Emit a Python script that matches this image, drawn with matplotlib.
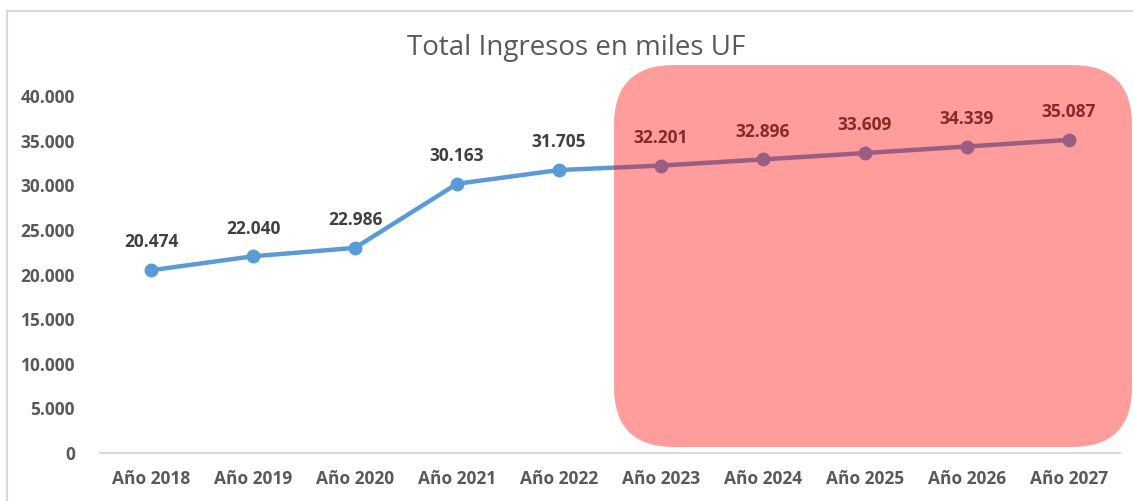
import matplotlib
matplotlib.use("Agg")
import matplotlib.pyplot as plt
from matplotlib.patches import FancyBboxPatch
from matplotlib.lines import Line2D
from matplotlib.transforms import Affine2D
from matplotlib.ticker import FuncFormatter

categories = ["Año 2018", "Año 2019", "Año 2020", "Año 2021", "Año 2022",
              "Año 2023", "Año 2024", "Año 2025", "Año 2026", "Año 2027"]
values = [20474, 22040, 22986, 30163, 31705, 32201, 32896, 33609, 34339, 35087]
y_ticks = [0, 5000, 10000, 15000, 20000, 25000, 30000, 35000, 40000]
title = "Total Ingresos en miles UF"

W, H = 1133, 501
plt.rcParams['font.family'] = ['Open Sans', 'DejaVu Sans']

def fmt(v):
    return f"{int(v):,}".replace(",", ".")

fig = plt.figure(figsize=(W / 100, H / 100), dpi=100)
fig.patch.set_facecolor("white")
ax = fig.add_axes([100 / W, (H - 453) / H, (1120 - 100) / W, (453 - 96) / H])

x = list(range(len(categories)))
ax.plot(x, values, color="#5B9BD5", lw=3.2, marker="o", ms=9, zorder=3,
        solid_capstyle="round")
for xi, v in zip(x, values):
    ax.annotate(fmt(v), (xi, v), xytext=(0, 20), textcoords="offset points",
                ha="center", va="center", fontsize=12.5, fontweight="bold",
                color="#404040")

ax.set_xlim(-0.5, len(categories) - 0.5)
ax.set_ylim(0, 40000)
ax.set_yticks(y_ticks)
ax.yaxis.set_major_formatter(FuncFormatter(lambda v, p: fmt(v)))
ax.set_xticks(x)
ax.set_xticklabels(categories)
for lab in ax.get_xticklabels() + ax.get_yticklabels():
    lab.set_fontweight("bold")
    lab.set_fontsize(12.5)
    lab.set_color("#595959")
ax.tick_params(axis="both", length=0)
ax.tick_params(axis="x", pad=12)
ax.tick_params(axis="y", pad=18)
for s in ["top", "right", "left"]:
    ax.spines[s].set_visible(False)
ax.spines["bottom"].set_color("#D9D9D9")
ax.spines["bottom"].set_linewidth(1.5)
ax.set_facecolor("none")

fig.text(576 / W, (H - 48) / H, title, ha="center", va="center",
         fontsize=20, color="#595959")

# pixel transform (image coords, y downward)
pix = Affine2D().scale(1 / W, -1 / H).translate(0, 1) + fig.transFigure

# chart border
fig.add_artist(Line2D([7, W + 5], [11, 11], transform=pix, color="#D9D9D9", lw=1.5))
fig.add_artist(Line2D([7, 7], [11, H + 5], transform=pix, color="#D9D9D9", lw=1.5))

# highlight overlay
rect = FancyBboxPatch((614, 65), 1132 - 614, 447 - 65,
                      boxstyle="round,pad=0,rounding_size=60",
                      transform=pix, facecolor="#FF0000", alpha=0.39,
                      edgecolor="none", zorder=5)
fig.add_artist(rect)

fig.savefig("out.png", dpi=100)
